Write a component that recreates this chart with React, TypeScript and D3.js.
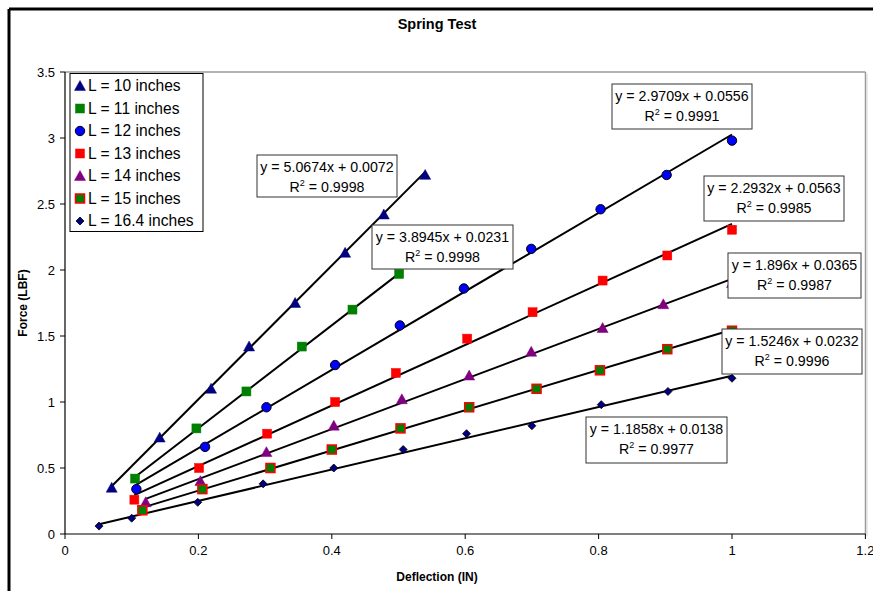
import React from "react";
import * as d3 from "d3";

const W = 873;
const H = 591;

const seriesNames = [
  "L = 10 inches",
  "L = 11 inches",
  "L = 12 inches",
  "L = 13 inches",
  "L = 14 inches",
  "L = 15 inches",
  "L = 16.4 inches",
];

const x10 = [0.07, 0.142, 0.219, 0.276, 0.345, 0.42, 0.478, 0.54];
const y10 = [0.35, 0.73, 1.1, 1.42, 1.75, 2.13, 2.42, 2.72];
const x11 = [0.105, 0.197, 0.272, 0.355, 0.431, 0.501];
const y11 = [0.42, 0.8, 1.08, 1.42, 1.7, 1.97];
const x12 = [0.107, 0.21, 0.302, 0.405, 0.502, 0.598, 0.699, 0.803, 0.902, 1.0];
const y12 = [0.34, 0.66, 0.96, 1.28, 1.58, 1.86, 2.16, 2.46, 2.72, 2.98];
const x13 = [0.104, 0.201, 0.303, 0.405, 0.496, 0.603, 0.701, 0.806, 0.903, 1.0];
const y13 = [0.26, 0.5, 0.76, 1.0, 1.22, 1.48, 1.68, 1.92, 2.11, 2.305];
const x14 = [0.121, 0.203, 0.302, 0.403, 0.505, 0.606, 0.699, 0.806, 0.897, 1.0];
const y14 = [0.24, 0.4, 0.62, 0.82, 1.02, 1.2, 1.38, 1.56, 1.74, 1.9];
const x15 = [0.116, 0.206, 0.308, 0.4, 0.503, 0.606, 0.707, 0.802, 0.903, 1.0];
const y15 = [0.18, 0.34, 0.5, 0.64, 0.8, 0.96, 1.1, 1.24, 1.4, 1.54];
const x164 = [0.051, 0.1, 0.199, 0.297, 0.403, 0.507, 0.602, 0.7, 0.804, 0.904, 1.0];
const y164 = [0.06, 0.12, 0.24, 0.38, 0.5, 0.64, 0.76, 0.82, 0.98, 1.08, 1.18];

const slopes = [5.0674, 3.8945, 2.9709, 2.2932, 1.896, 1.5246, 1.1858];
const intercepts = [0.0072, 0.0231, 0.0556, 0.0563, 0.0365, 0.0232, 0.0138];
const eqLabels = [
  "y = 5.0674x + 0.0072",
  "y = 3.8945x + 0.0231",
  "y = 2.9709x + 0.0556",
  "y = 2.2932x + 0.0563",
  "y = 1.896x + 0.0365",
  "y = 1.5246x + 0.0232",
  "y = 1.1858x + 0.0138",
];
const r2Labels = ["0.9998", "0.9998", "0.9991", "0.9985", "0.9987", "0.9996", "0.9977"];

const xTicks = [0, 0.2, 0.4, 0.6, 0.8, 1, 1.2];
const yTicks = [0, 0.5, 1, 1.5, 2, 2.5, 3, 3.5];

const allX = [x10, x11, x12, x13, x14, x15, x164];
const allY = [y10, y11, y12, y13, y14, y15, y164];

// box layout (left, top, width, height) for equation labels
const eqBoxes = [
  [257, 155, 140, 42],
  [372, 225, 141, 44],
  [612, 84, 140, 45],
  [704, 176, 140, 45],
  [728, 253, 133, 45],
  [722, 329, 140, 45],
  [586, 417, 141, 46],
];

type MarkerKind = "tri" | "sq" | "circ" | "sqred" | "diam";
const markerKinds: MarkerKind[] = ["tri", "sq", "circ", "sq", "tri", "sqred", "diam"];
const markerFill = ["#000080", "#008000", "#0000FF", "#FF0000", "#800080", "#008000", "#000080"];

function Marker({ kind, fill, cx, cy }: { kind: MarkerKind; fill: string; cx: number; cy: number }) {
  if (kind === "tri") {
    const s = 5.5;
    return (
      <path
        d={`M${cx},${cy - s} L${cx + s},${cy + s * 0.8} L${cx - s},${cy + s * 0.8} Z`}
        fill={fill}
        stroke={fill}
        strokeWidth={0.5}
      />
    );
  }
  if (kind === "sq") {
    const s = 4.5;
    return <rect x={cx - s} y={cy - s} width={2 * s} height={2 * s} fill={fill} stroke={fill} strokeWidth={0.5} />;
  }
  if (kind === "sqred") {
    const s = 4.5;
    return <rect x={cx - s} y={cy - s} width={2 * s} height={2 * s} fill={fill} stroke="#FF0000" strokeWidth={1.5} />;
  }
  if (kind === "circ") {
    return <circle cx={cx} cy={cy} r={4.7} fill={fill} stroke="#000" strokeWidth={1} />;
  }
  const s = 4;
  return (
    <path
      d={`M${cx},${cy - s} L${cx + s},${cy} L${cx},${cy + s} L${cx - s},${cy} Z`}
      fill={fill}
      stroke="#000"
      strokeWidth={0.8}
    />
  );
}

export default function App() {
  const xScale = d3.scaleLinear().domain([0, 1.2]).range([65, 865.4]);
  const yScale = d3.scaleLinear().domain([0, 3.5]).range([534, 72]);
  const fmt = (v: number) => String(+v.toFixed(1));
  const line = d3
    .line<[number, number]>()
    .x((d) => xScale(d[0]))
    .y((d) => yScale(d[1]));

  const font = "'Liberation Sans', Arial, sans-serif";
  const narrow = "'Liberation Sans Narrow', 'Arial Narrow', 'Liberation Sans', Arial, sans-serif";

  return (
    <svg
      width={W}
      height={H}
      style={{ position: "absolute", left: 0, top: 0, background: "#fff" }}
    >
      <rect x={0} y={0} width={W} height={H} fill="#fff" />
      {/* outer chart border */}
      <line x1={9} y1={9} x2={W + 5} y2={9} stroke="#000" strokeWidth={3} />
      <line x1={9} y1={9} x2={9} y2={H + 5} stroke="#000" strokeWidth={3} />

      {/* plot area frame */}
      <line x1={65} y1={72} x2={865.5} y2={72} stroke="#9a9a9a" strokeWidth={1.5} />
      <line x1={865.5} y1={72} x2={865.5} y2={534} stroke="#9a9a9a" strokeWidth={1.5} />
      <line x1={867} y1={74} x2={867} y2={536} stroke="#d8d8d8" strokeWidth={1} />

      {/* title */}
      <text x={437} y={29} textAnchor="middle" fontFamily={font} fontWeight="bold" fontSize={14.5}>
        Spring Test
      </text>

      {/* axes */}
      <line x1={65} y1={72} x2={65} y2={534} stroke="#000" strokeWidth={1.2} />
      <line x1={65} y1={534} x2={865.5} y2={534} stroke="#000" strokeWidth={1.2} />
      {yTicks.map((t) => (
        <g key={"y" + t}>
          <line x1={60} x2={65} y1={yScale(t)} y2={yScale(t)} stroke="#000" strokeWidth={1} />
          <text
            x={55}
            y={yScale(t) + 4.5}
            textAnchor="end"
            fontFamily={narrow}
            fontSize={13}
          >
            {fmt(t)}
          </text>
        </g>
      ))}
      {xTicks.map((t) => (
        <g key={"x" + t}>
          <line x1={xScale(t)} x2={xScale(t)} y1={534} y2={539} stroke="#000" strokeWidth={1} />
          <text x={xScale(t)} y={555} textAnchor="middle" fontFamily={narrow} fontSize={13}>
            {fmt(t)}
          </text>
        </g>
      ))}
      <text x={437} y={581} textAnchor="middle" fontFamily={narrow} fontWeight="bold" fontSize={12}>
        Deflection (IN)
      </text>
      <text
        transform="translate(27,303) rotate(-90)"
        textAnchor="middle"
        fontFamily={narrow}
        fontWeight="bold"
        fontSize={12}
      >
        Force (LBF)
      </text>

      {/* trendlines */}
      {slopes.map((m, i) => {
        const xs = allX[i];
        const x0 = d3.min(xs) as number;
        const x1 = d3.max(xs) as number;
        const pts: [number, number][] = [
          [x0, m * x0 + intercepts[i]],
          [x1, m * x1 + intercepts[i]],
        ];
        return <path key={"tl" + i} d={line(pts) || ""} stroke="#000" strokeWidth={2} fill="none" />;
      })}

      {/* markers */}
      {allX.map((xs, i) =>
        xs.map((xv, j) => (
          <Marker
            key={`m${i}-${j}`}
            kind={markerKinds[i]}
            fill={markerFill[i]}
            cx={xScale(xv)}
            cy={yScale(allY[i][j])}
          />
        ))
      )}

      {/* equation boxes */}
      {eqBoxes.map((b, i) => (
        <g key={"eq" + i}>
          <rect x={b[0]} y={b[1]} width={b[2]} height={b[3]} fill="#fff" stroke="#333" strokeWidth={1} />
          <text x={b[0] + b[2] / 2} y={b[1] + 17} textAnchor="middle" fontFamily={font} fontSize={14.2}>
            {eqLabels[i]}
          </text>
          <text x={b[0] + b[2] / 2} y={b[1] + 37} textAnchor="middle" fontFamily={font} fontSize={14.2}>
            R<tspan dy={-6} fontSize={9}>2</tspan>
            <tspan dy={6}> = {r2Labels[i]}</tspan>
          </text>
        </g>
      ))}

      {/* legend */}
      <rect x={70} y={73.5} width={133} height={158} fill="#fff" stroke="#000" strokeWidth={1} />
      {seriesNames.map((n, i) => {
        const cy = 86 + i * 22.5;
        return (
          <g key={"lg" + i}>
            <Marker kind={markerKinds[i]} fill={markerFill[i]} cx={80} cy={cy} />
            <text x={88} y={cy + 5} fontFamily={font} fontSize={15.6}>
              {n}
            </text>
          </g>
        );
      })}
    </svg>
  );
}
